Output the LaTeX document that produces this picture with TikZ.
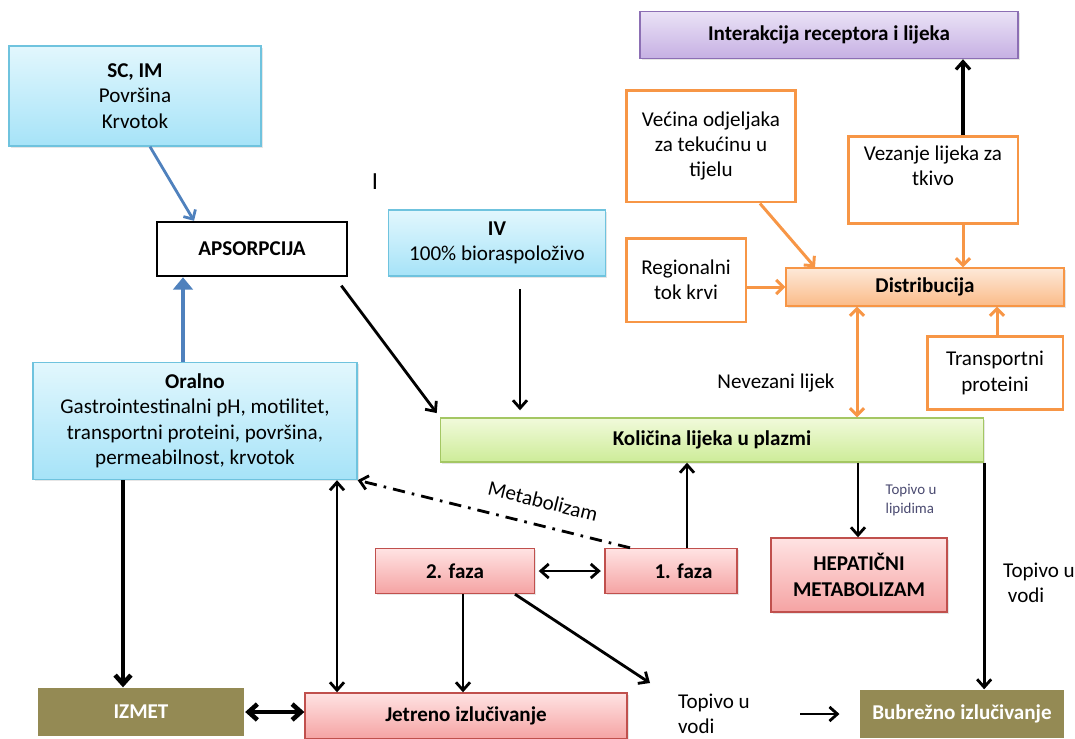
\documentclass[tikz,border=0pt]{standalone}
\usepackage{fontspec}
\setmainfont{Carlito}
\usetikzlibrary{arrows.meta,shadows}

\definecolor{plavaRub}{HTML}{6FC3DE}
\definecolor{plavaGore}{HTML}{E2F7FD}
\definecolor{plavaDolje}{HTML}{A6E3F8}
\definecolor{ljubRub}{HTML}{8C6FB4}
\definecolor{ljubGore}{HTML}{EAE2F6}
\definecolor{ljubDolje}{HTML}{C6B0E3}
\definecolor{zelRub}{HTML}{A4C763}
\definecolor{zelGore}{HTML}{F1FADB}
\definecolor{zelDolje}{HTML}{CDEC98}
\definecolor{narRub}{HTML}{F79646}
\definecolor{narGore}{HTML}{FDE9D9}
\definecolor{narDolje}{HTML}{FBBB88}
\definecolor{crvRub}{HTML}{C0504D}
\definecolor{crvGore}{HTML}{FFE3E3}
\definecolor{crvDolje}{HTML}{F5A3A3}
\definecolor{maslina}{HTML}{948A54}
\definecolor{strPlava}{HTML}{4F81BD}
\definecolor{sitniTekst}{HTML}{4A4A70}

\begin{document}
\begin{tikzpicture}[x=0.02cm,y=-0.02cm,
    font=\fontsize{12}{14.5}\selectfont,
    >={Straight Barb[length=4.5pt,width=8pt]},
    kutija/.style={align=center,inner sep=2pt,line width=0.8pt},
    plavo/.style={kutija,draw=plavaRub,top color=plavaGore,bottom color=plavaDolje,
      drop shadow={opacity=0.2,shadow xshift=1pt,shadow yshift=-1pt}},
    ljubicasto/.style={kutija,draw=ljubRub,top color=ljubGore,bottom color=ljubDolje,
      drop shadow={opacity=0.2,shadow xshift=1pt,shadow yshift=-1pt}},
    zeleno/.style={kutija,draw=zelRub,top color=zelGore,bottom color=zelDolje,
      drop shadow={opacity=0.2,shadow xshift=1pt,shadow yshift=-1pt}},
    distr/.style={kutija,draw=narRub,top color=narGore,bottom color=narDolje,
      drop shadow={opacity=0.2,shadow xshift=1pt,shadow yshift=-1pt}},
    crveno/.style={kutija,draw=crvRub,top color=crvGore,bottom color=crvDolje,
      drop shadow={opacity=0.2,shadow xshift=1pt,shadow yshift=-1pt}},
    okvir/.style={kutija,draw=narRub,fill=white,line width=1.7pt},
    izlaz/.style={kutija,fill=maslina,text=white,font=\fontsize{12}{14.5}\selectfont\bfseries},
    crna/.style={->,line width=1.6pt},
    crnadebela/.style={->,line width=2.6pt,>={Straight Barb[length=5pt,width=9pt]}},
    narandz/.style={->,draw=narRub,line width=1.7pt,>={Straight Barb[length=4pt,width=8pt]}},
    plavastr/.style={->,draw=strPlava,line width=1.6pt,>={Straight Barb[length=4pt,width=8pt]}},
    plavadebela/.style={-{Triangle[length=7pt,width=11pt]},draw=strPlava,line width=2.8pt},
  ]
  \useasboundingbox (0,0) rectangle (1075,738);

  % ulazni putevi
  \node [plavo,minimum width=5.04cm,minimum height=2cm] (scim) at (135,96)
    {\textbf{SC, IM}\\Površina\\Krvotok};
  \node [kutija,draw,line width=1.4pt,fill=white,minimum width=3.8cm,minimum height=1.08cm] (apsor) at (252,249)
    {\textbf{APSORPCIJA}};
  \node [font=\fontsize{14}{15}\selectfont] (oznaka) at (375,182) {I};
  \node [plavo,minimum width=4.34cm,minimum height=1.32cm] (iv) at (497,243)
    {\textbf{IV}\\100\% bioraspoloživo};
  \node [plavo,minimum width=6.48cm,minimum height=2.34cm] (oral) at (195,421)
    {\textbf{Oralno}\\Gastrointestinalni pH, motilitet,\\transportni proteini, površina,\\permeabilnost, krvotok};

  % distribucija
  \node [ljubicasto,minimum width=7.56cm,minimum height=0.94cm] (inter) at (829,35)
    {\textbf{Interakcija receptora i lijeka}};
  \node [okvir,minimum width=3.4cm,minimum height=2.24cm] (vecina) at (711,146)
    {Većina odjeljaka\\za tekućinu u\\tijelu};
  \node [okvir,minimum width=3.4cm,minimum height=1.74cm] (vezanje) at (933,180)
    {Vezanje lijeka za\\tkivo\\[2pt]};
  \node [okvir,minimum width=2.4cm,minimum height=1.68cm] (regional) at (686,280)
    {Regionalni\\tok krvi};
  \node [distr,minimum width=5.56cm,minimum height=0.76cm] (distrib) at (925,287)
    {\textbf{Distribucija}};
  \node [okvir,minimum width=2.72cm,minimum height=1.46cm] (transp) at (995,373)
    {Transportni\\proteini};
  \node (nevezani) at (776,383) {Nevezani lijek};

  % plazma i metabolizam
  \node [zeleno,minimum width=10.86cm,minimum height=0.88cm] (kolicina) at (712,440)
    {\textbf{Količina lijeka u plazmi}};
  \node [crveno,minimum width=3.18cm,minimum height=0.9cm] (faza2) at (455,571)
    {\textbf{2. faza}};
  \node [crveno,minimum width=2.64cm,minimum height=0.9cm] (faza1) at (671,571)
    {\hspace*{0.5cm}\textbf{1. faza}};
  \node [crveno,minimum width=3.52cm,minimum height=1.48cm] (hepat) at (859,575)
    {\textbf{HEPATIČNI}\\\textbf{METABOLIZAM}};
  \node [text=sitniTekst,align=left,font=\fontsize{8.5}{11}\selectfont] (lipidi) at (911,500)
    {Topivo u\\lipidima};
  \node [align=left] (voda1) at (1039,583) {Topivo u\\\ vodi};
  \node [rotate=-14] (metab) at (543,501) {Metabolizam};

  % izlucivanje
  \node [izlaz,minimum width=4.14cm,minimum height=0.96cm] (izmet) at (141,712) {IZMET};
  \node [crveno,minimum width=6.44cm,minimum height=0.92cm] (jetreno) at (466,716)
    {\textbf{Jetreno izlučivanje}};
  \node [align=left] (voda2) at (714,714) {Topivo u\\vodi};
  \node [izlaz,minimum width=4.1cm,minimum height=0.96cm] (bubrez) at (962,714)
    {Bubrežno izlučivanje};
  \coordinate (kraj) at (650,683);

  % strelice
  \draw [plavastr] (scim.south -| 150,0) -- (apsor.north -| 194,0);
  \draw [plavadebela] (oral.north -| 183,0) -- (apsor.south -| 183,0);
  \draw [crna,shorten <=6pt,shorten >=3pt] (apsor.south -| 335,0) -- (kolicina.north west);
  \draw [crna,shorten <=7pt,shorten >=4pt] (iv.south -| 520,0) -- (kolicina.north -| 520,0);
  \draw [crna,line width=1.8pt] (vezanje.north -| 963,0) -- (inter.south -| 963,0);
  \draw [narandz] (vecina.south -| 760,0) -- (distrib.north -| 815,0);
  \draw [narandz] (regional.east |- distrib) -- (distrib.west);
  \draw [narandz] (vezanje.south -| 963,0) -- (distrib.north -| 963,0);
  \draw [narandz,<->] (distrib.south -| 857,0) -- (kolicina.north -| 857,0);
  \draw [narandz] (transp.north -| 997,0) -- (distrib.south -| 997,0);
  \draw [crna] (kolicina.south -| 858,0) -- (hepat.north -| 858,0);
  \draw [crna] (faza1.north -| 687,0) -- (kolicina.south -| 687,0);
  \draw [crna] (kolicina.south east) -- (bubrez.north -| kolicina.south east);
  \draw [->,line width=1.6pt,dash pattern=on 7pt off 4pt on 1.5pt off 4pt] (faza1.north -| 630,0) -- (oral.south east);
  \draw [crna,<->,shorten <=2pt,shorten >=2pt] (faza2.east) -- (faza1.west);
  \draw [crna] (faza2.south -| 463,0) -- (jetreno.north -| 463,0);
  \draw [crna] (faza2.south -| 515,0) -- (kraj);
  \draw [crnadebela] (oral.south -| 123,0) -- (izmet.north -| 123,0);
  \draw [crna,<->] (jetreno.north -| 337,0) -- (oral.south -| 337,0);
  \draw [crnadebela,<->] (izmet.east) -- (jetreno.west |- izmet.east);
  \draw [crna,shorten <=25pt,shorten >=11pt] (voda2.east) -- (bubrez.west |- voda2.east);
\end{tikzpicture}
\end{document}
